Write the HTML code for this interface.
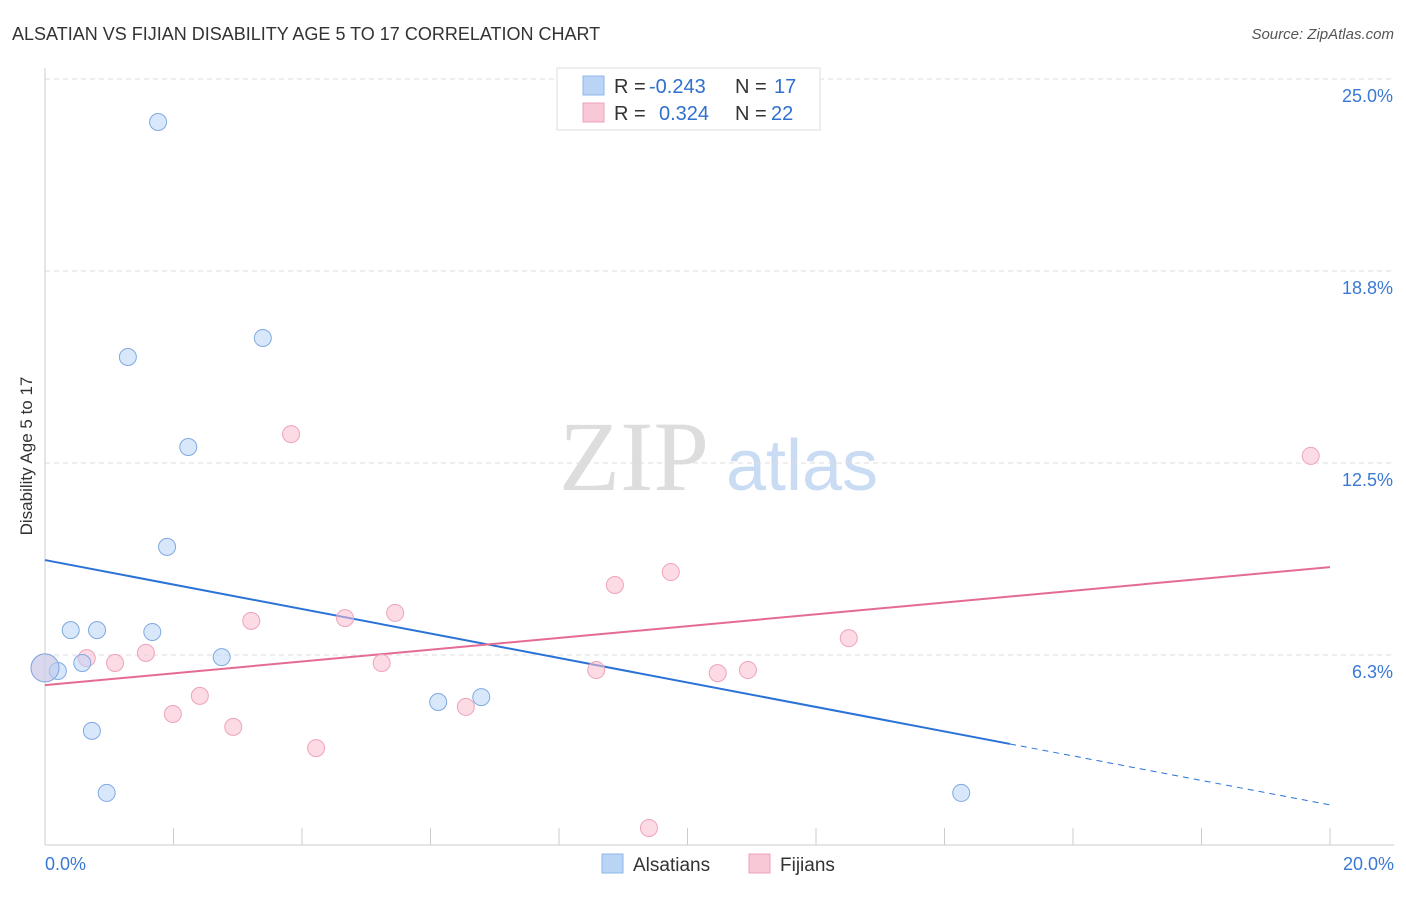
<!DOCTYPE html>
<html><head><meta charset="utf-8"><style>
body{margin:0;background:#fff;font-family:"Liberation Sans",sans-serif;}
svg text{font-family:"Liberation Sans",sans-serif;}
</style></head><body>
<svg id="chart" width="1406" height="892" xmlns="http://www.w3.org/2000/svg">
<text x="12" y="40" font-size="18" fill="#333">ALSATIAN VS FIJIAN DISABILITY AGE 5 TO 17 CORRELATION CHART</text>
<text x="1394" y="39" font-size="15" fill="#555" text-anchor="end" font-style="italic">Source: ZipAtlas.com</text>
<text x="32" y="456" font-size="17" fill="#333" text-anchor="middle" transform="rotate(-90 32 456)">Disability Age 5 to 17</text>
<g><text x="634" y="490" font-size="100" fill="#ddd" text-anchor="middle" style="font-family:'Liberation Serif',serif">ZIP</text><text x="802" y="490" font-size="72" fill="#c9dcf3" text-anchor="middle">atlas</text></g>
<g id="grid"></g><g id="axes"></g><g id="lines"></g><g id="pts"></g>
<g>
<rect x="557" y="68" width="263" height="62" fill="#fff" stroke="#ddd"/>
<rect x="583" y="76" width="21" height="19" fill="#b9d4f5" stroke="#8fb6ea"/>
<rect x="583" y="103" width="21" height="19" fill="#f9c8d7" stroke="#f0a2bb"/>
<text x="614" y="93" font-size="20" fill="#333">R = <tspan x="649" fill="#2f6fce">-0.243</tspan><tspan x="735">N = </tspan><tspan x="774" fill="#2f6fce">17</tspan></text>
<text x="614" y="120" font-size="20" fill="#333">R = <tspan x="659" fill="#2f6fce">0.324</tspan><tspan x="735">N = </tspan><tspan x="771" fill="#2f6fce">22</tspan></text>
</g>
<g>
<rect x="602" y="854" width="21" height="19" fill="#b9d4f5" stroke="#8fb6ea"/>
<text x="633" y="871" font-size="19" fill="#333">Alsatians</text>
<rect x="749" y="854" width="21" height="19" fill="#f9c8d7" stroke="#f0a2bb"/>
<text x="780" y="871" font-size="19" fill="#333">Fijians</text>
</g>
</svg>
<script>
const yTicks=[6.3,12.5,18.8,25.0];
const yTickVals=[6.25,12.5,18.75,25];
const xLabels=["0.0%","20.0%"];
const blueX=[1.76,1.29,3.39,2.23,1.90,0.40,0.81,1.67,0.58,0.20,2.75,0.73,0.96,6.12,6.79,14.26,0.0];
const blueY=[23.60,15.95,16.57,13.02,9.77,7.06,7.06,7.00,5.99,5.73,6.18,3.78,1.76,4.72,4.88,1.76,5.83];
const pinkX=[3.83,19.70,9.74,8.87,5.45,4.67,3.21,12.51,1.57,0.65,1.09,5.24,8.58,10.94,10.47,2.41,1.99,6.55,2.93,4.22,9.40,0];
const pinkY=[13.44,12.73,8.95,8.53,7.62,7.45,7.36,6.80,6.32,6.15,5.99,5.99,5.76,5.76,5.66,4.92,4.33,4.56,3.91,3.22,0.62,5.83];
const blueTrend=[9.34,1.37];const blueSolidEnd=15.02;
const pinkTrend=[5.27,9.11];
const NS="http://www.w3.org/2000/svg";
const X=v=>45+v/20*1285, Y=v=>847-v*30.72;
function mk(p,t,a){const e=document.createElementNS(NS,t);for(const k in a)e.setAttribute(k,a[k]);document.getElementById(p).appendChild(e);return e;}
yTickVals.forEach((v,i)=>{
 const l=mk('grid','line',{x1:45,x2:1394,y1:Y(v),y2:Y(v),stroke:'#ddd','stroke-dasharray':'5,4'});
 
 
 const t=mk('grid','text',{x:1393,y:Y(v)+23,'font-size':18,fill:'#3a78d4','text-anchor':'end'});t.textContent=yTicks[i].toFixed(1)+'%';
 
 
});
mk('axes','line',{x1:45,x2:45,y1:68,y2:845,stroke:'#ccc'});
mk('axes','line',{x1:45,x2:1394,y1:845,y2:845,stroke:'#ccc'});
for(let i=0;i<=10;i++){const l=mk('axes','line',{x1:X(i*2),x2:X(i*2),y1:828,y2:845,stroke:'#ccc'});
 
 }
[[0,'start',45],[20,'end',1394]].forEach((d,i)=>{const t=mk('axes','text',{x:d[2],y:870,'font-size':18,fill:'#3a78d4','text-anchor':d[1]});t.textContent=xLabels[i];
 
 });
const by=x=>blueTrend[0]+(blueTrend[1]-blueTrend[0])*x/20;
let l=mk('lines','line',{x1:X(0),y1:Y(by(0)),x2:X(blueSolidEnd),y2:Y(by(blueSolidEnd)),stroke:'#2a72d6','stroke-width':2});


l=mk('lines','line',{x1:X(blueSolidEnd),y1:Y(by(blueSolidEnd)),x2:X(20),y2:Y(by(20)),stroke:'#2a72d6','stroke-width':1,'stroke-dasharray':'6,5'});


l=mk('lines','line',{x1:X(0),y1:Y(pinkTrend[0]),x2:X(20),y2:Y(pinkTrend[1]),stroke:'#e56b93','stroke-width':2});


pinkX.forEach((x,i)=>{const c=mk('pts','circle',{cx:X(x),cy:Y(pinkY[i]),r:i==pinkX.length-1?14:8.5,fill:'rgba(249,190,208,0.55)',stroke:'#eea3ba'});
 
 });
blueX.forEach((x,i)=>{const c=mk('pts','circle',{cx:X(x),cy:Y(blueY[i]),r:i==blueX.length-1?14:8.5,fill:'rgba(185,212,245,0.55)',stroke:'#7fa9e2'});
 
 });
</script>
</body></html>
